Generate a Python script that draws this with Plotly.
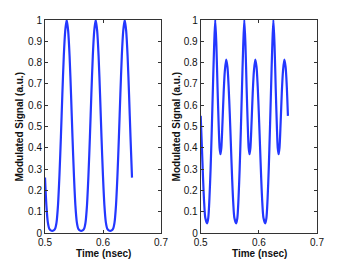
import plotly.graph_objects as go

# Left panel: modulated signal (single tone)
t_left = [0.5000, 0.5024, 0.5049, 0.5074, 0.5099, 0.5124, 0.5149, 0.5174, 0.5199, 0.5224,
          0.5249, 0.5274, 0.5299, 0.5324, 0.5349, 0.5374, 0.5399, 0.5424, 0.5449, 0.5474,
          0.5499, 0.5524, 0.5549, 0.5574, 0.5599, 0.5624, 0.5649, 0.5674, 0.5699, 0.5724,
          0.5749, 0.5774, 0.5799, 0.5824, 0.5849, 0.5874, 0.5899, 0.5924, 0.5949, 0.5974,
          0.5999, 0.6024, 0.6049, 0.6074, 0.6099, 0.6124, 0.6149, 0.6174, 0.6199, 0.6224,
          0.6249, 0.6274, 0.6299, 0.6324, 0.6349, 0.6374, 0.6399, 0.6424, 0.6449, 0.6474,
          0.6500]
s_left = [0.26, 0.13, 0.05, 0.02, 0.012, 0.01, 0.012, 0.02, 0.05, 0.13,
          0.27, 0.45, 0.65, 0.83, 0.95, 1.0, 0.95, 0.83, 0.65, 0.45,
          0.27, 0.13, 0.05, 0.02, 0.012, 0.01, 0.012, 0.02, 0.05, 0.13,
          0.27, 0.45, 0.65, 0.83, 0.95, 1.0, 0.95, 0.83, 0.65, 0.45,
          0.27, 0.13, 0.05, 0.02, 0.012, 0.01, 0.012, 0.02, 0.05, 0.13,
          0.27, 0.45, 0.65, 0.83, 0.95, 1.0, 0.95, 0.83, 0.65, 0.45,
          0.26]

# Right panel: modulated signal (two tones)
t_right = [0.500, 0.502, 0.504, 0.506, 0.508,
           0.511, 0.513, 0.515, 0.517, 0.519, 0.521, 0.523, 0.525, 0.527, 0.529, 0.531, 0.5325,
           0.534, 0.5355, 0.5375, 0.5395, 0.5415, 0.5438, 0.546, 0.548, 0.550, 0.552, 0.554, 0.556, 0.558,
           0.561, 0.563, 0.565, 0.567, 0.569, 0.571, 0.573, 0.575, 0.577, 0.579, 0.581, 0.5825,
           0.584, 0.5855, 0.5875, 0.5895, 0.5915, 0.5938, 0.596, 0.598, 0.600, 0.602, 0.604, 0.606, 0.608,
           0.611, 0.613, 0.615, 0.617, 0.619, 0.621, 0.623, 0.625, 0.627, 0.629, 0.631, 0.6325,
           0.634, 0.6355, 0.6375, 0.6395, 0.6415, 0.6438, 0.646, 0.648, 0.650]
s_right = [0.55, 0.41, 0.26, 0.14, 0.07,
           0.045, 0.07, 0.16, 0.30, 0.48, 0.68, 0.87, 1.0, 0.88, 0.68, 0.50, 0.40,
           0.37, 0.40, 0.52, 0.66, 0.76, 0.814, 0.78, 0.69, 0.56, 0.41, 0.26, 0.14, 0.07,
           0.045, 0.07, 0.16, 0.30, 0.48, 0.68, 0.87, 1.0, 0.88, 0.68, 0.50, 0.40,
           0.37, 0.40, 0.52, 0.66, 0.76, 0.814, 0.78, 0.69, 0.56, 0.41, 0.26, 0.14, 0.07,
           0.045, 0.07, 0.16, 0.30, 0.48, 0.68, 0.87, 1.0, 0.88, 0.68, 0.50, 0.40,
           0.37, 0.40, 0.52, 0.66, 0.76, 0.814, 0.78, 0.69, 0.55]

x_ticks = [0.5, 0.6, 0.7]
x_tick_labels = ["0.5", "0.6", "0.7"]
y_ticks = [0, 0.1, 0.2, 0.3, 0.4, 0.5, 0.6, 0.7, 0.8, 0.9, 1]
y_tick_labels = ["0", "0.1", "0.2", "0.3", "0.4", "0.5", "0.6", "0.7", "0.8", "0.9", "1"]

x_title = "Time (nsec)"
y_title = "Modulated Signal (a.u.)"

line_color = "rgb(35,55,255)"
axis_color = "#333333"
font_family = "Liberation Sans, Arial, Helvetica, sans-serif"

fig = go.Figure()
fig.add_trace(go.Scatter(x=t_left, y=s_left, mode="lines", xaxis="x", yaxis="y",
                         line=dict(color=line_color, width=2.2, shape="spline", smoothing=0.8),
                         showlegend=False))
fig.add_trace(go.Scatter(x=t_right, y=s_right, mode="lines", xaxis="x2", yaxis="y2",
                         line=dict(color=line_color, width=2.2, shape="spline", smoothing=0.8),
                         showlegend=False))

ax_common = dict(showline=True, linecolor=axis_color, linewidth=1, mirror="ticks",
                 ticks="inside", ticklen=3, tickcolor=axis_color, tickwidth=1,
                 showgrid=False, zeroline=False,
                 tickfont=dict(family=font_family, size=10, color="#111111"))

fig.update_layout(
    width=349, height=263,
    margin=dict(l=45, r=32, t=20, b=30),
    paper_bgcolor="white", plot_bgcolor="white",
    font=dict(family=font_family, size=10, color="#111111"),
    xaxis=dict(domain=[0, 0.4265], range=[0.5, 0.7], tickvals=x_ticks, ticktext=x_tick_labels,
               anchor="y", **ax_common),
    yaxis=dict(domain=[0, 1], range=[0, 1], tickvals=y_ticks, ticktext=y_tick_labels,
               anchor="x", **ax_common),
    xaxis2=dict(domain=[0.5724, 1], range=[0.5, 0.7], tickvals=x_ticks, ticktext=x_tick_labels,
                anchor="y2", **ax_common),
    yaxis2=dict(domain=[0, 1], range=[0, 1], tickvals=y_ticks, ticktext=y_tick_labels,
                anchor="x2", **ax_common),
)

title_font = dict(family=font_family, size=10, color="#111111")
fig.add_annotation(text="<b>%s</b>" % y_title, xref="paper", yref="paper", x=-0.092, y=0.5,
                   textangle=-90, showarrow=False, font=title_font, xanchor="center", yanchor="middle")
fig.add_annotation(text="<b>%s</b>" % y_title, xref="paper", yref="paper", x=0.485, y=0.5,
                   textangle=-90, showarrow=False, font=title_font, xanchor="center", yanchor="middle")
fig.add_annotation(text="<b>%s</b>" % x_title, xref="paper", yref="paper", x=0.215, y=-0.094,
                   showarrow=False, font=title_font, xanchor="center", yanchor="middle")
fig.add_annotation(text="<b>%s</b>" % x_title, xref="paper", yref="paper", x=0.787, y=-0.094,
                   showarrow=False, font=title_font, xanchor="center", yanchor="middle")

fig.write_html("out.html", config={"displayModeBar": False},
               post_script="document.body.style.margin='0';document.body.style.padding='0';")
